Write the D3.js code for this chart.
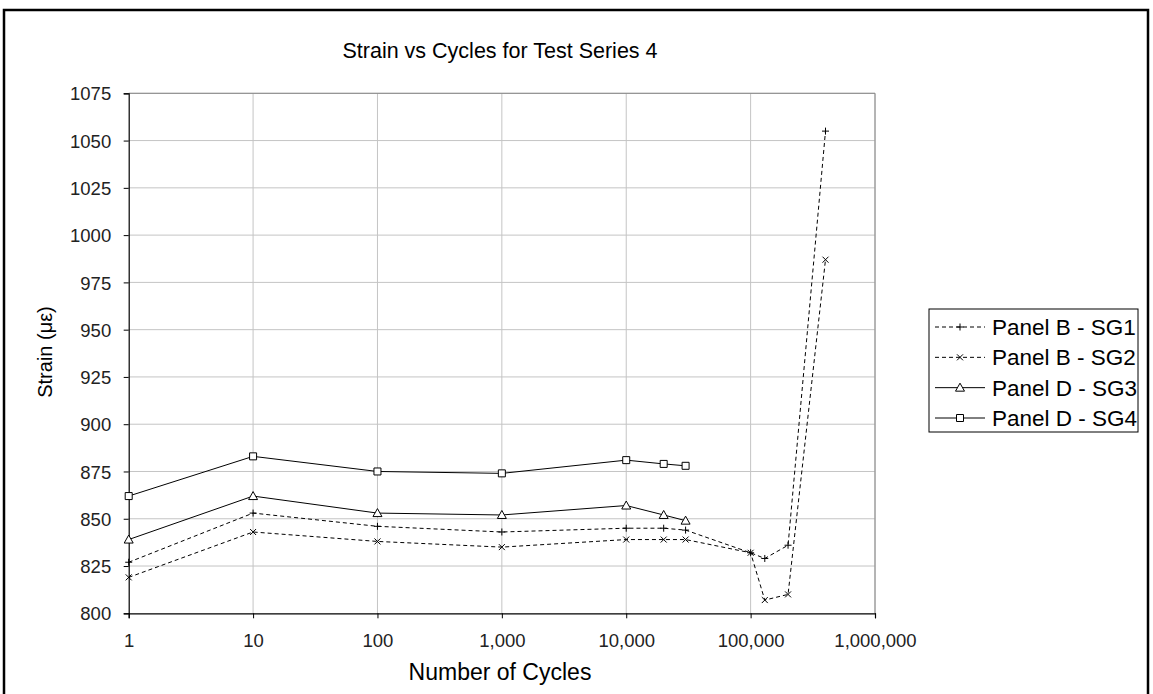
<!DOCTYPE html>
<html>
<head>
<meta charset="utf-8">
<script src="https://cdn.jsdelivr.net/npm/d3@7"></script>
<style>
  html, body { margin: 0; padding: 0; background: #fff; }
  svg { display: block; font-family: "Liberation Sans", Arial, sans-serif; }
</style>
</head>
<body>
<svg id="chart" width="1153" height="694"></svg>
<script>
// Cycle counts at which readings were taken
const cyclesD = [1, 10, 100, 1000, 10000, 20000, 30000];
const cyclesB = [1, 10, 100, 1000, 10000, 20000, 30000, 100000, 130000, 200000, 400000];

// Strain readings (microstrain)
const sg1 = [827, 853, 846, 843, 845, 845, 844, 832, 829, 836, 1055];
const sg2 = [819, 843, 838, 835, 839, 839, 839, 832, 807, 810, 987];
const sg3 = [839, 862, 853, 852, 857, 852, 849];
const sg4 = [862, 883, 875, 874, 881, 879, 878];

const seriesNames = ["Panel B - SG1", "Panel B - SG2", "Panel D - SG3", "Panel D - SG4"];
const xTicks = [1, 10, 100, 1000, 10000, 100000, 1000000];
const yTicks = [800, 825, 850, 875, 900, 925, 950, 975, 1000, 1025, 1050, 1075];

const series = [
  { name: seriesNames[0], x: cyclesB, y: sg1, dash: "4,3", marker: "plus" },
  { name: seriesNames[1], x: cyclesB, y: sg2, dash: "4,3", marker: "cross" },
  { name: seriesNames[2], x: cyclesD, y: sg3, dash: null, marker: "triangle" },
  { name: seriesNames[3], x: cyclesD, y: sg4, dash: null, marker: "square" }
];

const svg = d3.select("#chart");
const plot = { left: 128.7, right: 875, top: 93.3, bottom: 613.3 };

const x = d3.scaleLog().domain([1, 1000000]).range([plot.left, plot.right]);
const y = d3.scaleLinear().domain([800, 1075]).range([plot.bottom, plot.top]);

// Outer frame
svg.append("rect")
  .attr("x", 4).attr("y", 10).attr("width", 1144).attr("height", 700)
  .attr("fill", "#fff").attr("stroke", "#000").attr("stroke-width", 2.5);

// Gridlines
const grid = svg.append("g");
grid.selectAll("line.h").data(yTicks.slice(1)).join("line")
  .attr("x1", plot.left).attr("x2", plot.right)
  .attr("y1", d => y(d)).attr("y2", d => y(d))
  .attr("stroke", "#c4c4c4").attr("stroke-width", 1);
grid.selectAll("line.v").data(xTicks.slice(1)).join("line")
  .attr("y1", plot.top).attr("y2", plot.bottom)
  .attr("x1", d => x(d)).attr("x2", d => x(d))
  .attr("stroke", "#c4c4c4").attr("stroke-width", 1);

// Plot area border (top and right)
svg.append("path")
  .attr("d", `M${plot.left},${plot.top}H${plot.right}V${plot.bottom}`)
  .attr("fill", "none").attr("stroke", "#888").attr("stroke-width", 1);

// Axes
const fmt = d3.format(",");
const xAxis = d3.axisBottom(x).tickValues(xTicks).tickFormat(fmt).tickSize(5).tickPadding(16);
const yAxis = d3.axisLeft(y).tickValues(yTicks).tickFormat(d3.format("d")).tickSize(5).tickPadding(12.5);

const gx = svg.append("g").attr("transform", `translate(0,${plot.bottom})`).call(xAxis);
const gy = svg.append("g").attr("transform", `translate(${plot.left},0)`).call(yAxis);
[gx, gy].forEach(g => {
  g.select(".domain").attr("stroke", "#000").attr("stroke-width", 1.2);
  g.selectAll(".tick line").attr("stroke", "#000");
  g.selectAll(".tick text").attr("fill", "#222").attr("font-size", 18.5)
    .attr("font-family", "'Liberation Sans', Arial, sans-serif");
});
gy.selectAll(".tick text").attr("dy", "0.36em");

// Marker drawing
function drawMarker(g, type, cx, cy) {
  const s = g.append("path").attr("stroke", "#000").attr("stroke-width", 1);
  if (type === "plus") {
    s.attr("d", `M${cx-3.5},${cy}H${cx+3.5}M${cx},${cy-3.5}V${cy+3.5}`);
  } else if (type === "cross") {
    s.attr("d", `M${cx-3},${cy-3}L${cx+3},${cy+3}M${cx-3},${cy+3}L${cx+3},${cy-3}`);
  } else if (type === "triangle") {
    s.attr("d", `M${cx},${cy-4.5}L${cx+4.5},${cy+3.5}L${cx-4.5},${cy+3.5}Z`).attr("fill", "#fff");
  } else if (type === "square") {
    s.attr("d", `M${cx-3.5},${cy-3.5}h7v7h-7Z`).attr("fill", "#fff");
  }
}

// Series lines and markers
const line = d3.line().x(d => x(d[0])).y(d => y(d[1]));
series.forEach(s => {
  const pts = s.x.map((c, i) => [c, s.y[i]]);
  svg.append("path").datum(pts)
    .attr("d", line)
    .attr("fill", "none").attr("stroke", "#000").attr("stroke-width", 1)
    .attr("stroke-dasharray", s.dash);
  const mg = svg.append("g");
  pts.forEach(p => drawMarker(mg, s.marker, x(p[0]), y(p[1])));
});

// Title
svg.append("text")
  .attr("x", 500).attr("y", 58).attr("text-anchor", "middle")
  .attr("font-size", 21.5).attr("fill", "#000")
  .text("Strain vs Cycles for Test Series 4");

// Axis titles
svg.append("text")
  .attr("x", 500).attr("y", 680).attr("text-anchor", "middle")
  .attr("font-size", 23).attr("fill", "#000")
  .text("Number of Cycles");

svg.append("text")
  .attr("transform", "translate(52,352) rotate(-90)")
  .attr("text-anchor", "middle")
  .attr("font-size", 20).attr("fill", "#000")
  .text("Strain (\u03bc\u03b5)");

// Legend
const legend = svg.append("g");
legend.append("rect")
  .attr("x", 929).attr("y", 309).attr("width", 209).attr("height", 123)
  .attr("fill", "#fff").attr("stroke", "#000").attr("stroke-width", 1);
const rowY = d3.scalePoint().domain(seriesNames).range([327, 418]);
series.forEach(s => {
  const cy = rowY(s.name);
  legend.append("line")
    .attr("x1", 935).attr("x2", 985).attr("y1", cy).attr("y2", cy)
    .attr("stroke", "#000").attr("stroke-width", 1)
    .attr("stroke-dasharray", s.dash);
  drawMarker(legend, s.marker, 960, cy);
  legend.append("text")
    .attr("x", 992).attr("y", cy + 8)
    .attr("font-size", 22.5).attr("fill", "#000")
    .text(s.name);
});
</script>
</body>
</html>
